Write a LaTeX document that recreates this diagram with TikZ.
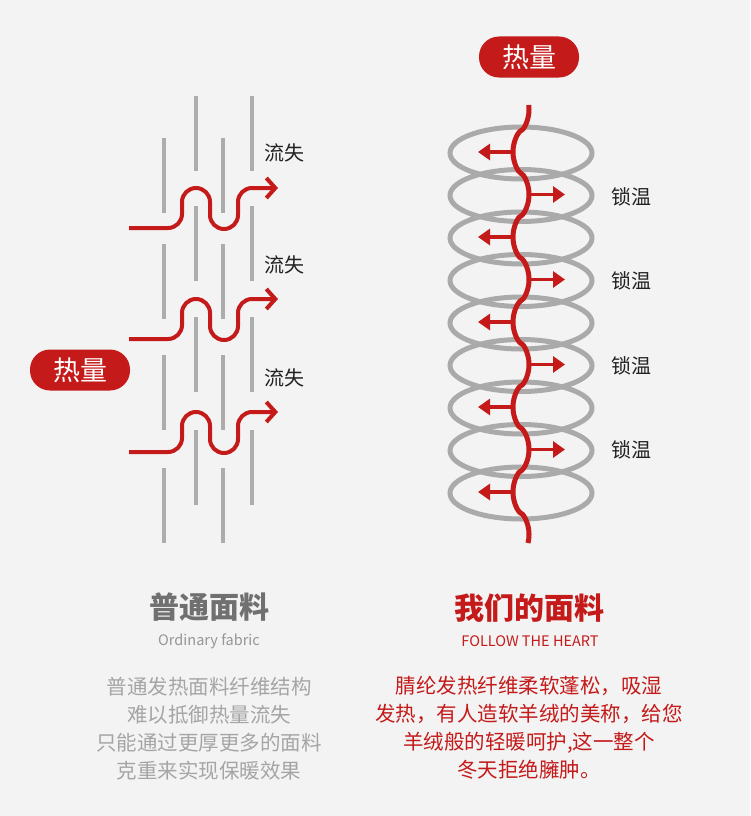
\documentclass[tikz,border=0pt]{standalone}
\usepackage{fontspec}
\setmainfont{Noto Sans CJK SC}
\usepackage{xcolor}
\usepackage{tikz}
\usetikzlibrary{arrows.meta, positioning}

\definecolor{bgGray}{RGB}{243,243,243}
\definecolor{heatRed}{RGB}{196,26,26}
\definecolor{fiberGray}{RGB}{172,172,172}
\definecolor{ringGray}{RGB}{170,170,170}
\definecolor{labelBlack}{RGB}{34,34,34}
\definecolor{headGray}{RGB}{112,112,112}
\definecolor{subGray}{RGB}{150,150,150}
\definecolor{paraGray}{RGB}{165,165,165}

\begin{document}
\begin{tikzpicture}[x=1pt, y=-1pt,
  pill/.style={rectangle, rounded corners=20pt, fill=heatRed, text=white, minimum width=100pt, minimum height=41pt, inner sep=0pt, font=\fontsize{27}{27}\selectfont},
  fiber/.style={fiberGray, line width=4pt},
  flow/.style={heatRed, line width=4pt, rounded corners=14pt, -{Straight Barb[length=9pt, width=20pt]}},
  ring/.style={ringGray, line width=5pt},
  wave/.style={heatRed, line width=5pt},
  keep/.style={heatRed, line width=3.5pt, -{Triangle[length=12pt, width=16pt]}},
  tag/.style={text=labelBlack, inner sep=0pt, font=\fontsize{20}{20}\selectfont},
  headline/.style={inner sep=0pt, font=\bfseries\fontsize{30}{30}\selectfont},
  subline/.style={inner sep=0pt, font=\fontsize{14.5}{14.5}\selectfont},
  para/.style={align=center, inner sep=0pt, font=\fontsize{20.5}{28}\selectfont}
]
  \fill[bgGray] (0,0) rectangle (750,816);

  % ordinary fabric: fibres and escaping heat
  \foreach \x in {164,223}
    \foreach \y in {138,244,355,468}
      \draw[fiber] (\x,\y) -- (\x,{\y+75});
  \foreach \x in {196,252}
    \foreach \y in {96,206,317,430}
      \draw[fiber] (\x,\y) -- (\x,{\y+75});

  \foreach \d in {0,111,224}
    \draw[flow, shift={(0,\d)}] (129,228) -- (182,228) -- (182,188) -- (210,188)
      -- (210,229) -- (238,229) -- (238,188) -- (278,188);

  \node[tag] (lossA) at (284,153) {流失};
  \node[tag] (lossB) at (284,265) {流失};
  \node[tag] (lossC) at (284,378) {流失};

  \node[pill] (heatLeft) at (80,370) {热量};

  % our fabric: rings lock the heat
  \foreach \k in {0,...,8}
    \draw[ring] (521,{153+42.5*\k}) ellipse [x radius=71pt, y radius=26pt];
  \draw[wave] plot[variable=\t, domain=105:543, samples=200, smooth]
    ({521-8*sign(cos(180*((\t-152)/42.5)))*(abs(cos(180*((\t-152)/42.5)))+0.0001)^0.65}, \t);
  \foreach \k in {0,2,4,6,8}
    \draw[keep] (514,{152+42.5*\k}) -- (478,{152+42.5*\k});
  \foreach \k in {1,3,5,7}
    \draw[keep] (528,{152+42.5*\k}) -- (565,{152+42.5*\k});

  \node[tag] (lockA) at (631,197) {锁温};
  \node[tag] (lockB) at (631,281) {锁温};
  \node[tag] (lockC) at (631,366) {锁温};
  \node[tag] (lockD) at (631,450) {锁温};

  \node[pill] (heatTop) at (529,57) {热量};

  % captions
  \node[headline, text=headGray] (normTitle) at (209,607) {普通面料};
  \node[subline, text=subGray] (normSub) at (209,641) {Ordinary fabric};
  \node[para, text=paraGray] (normText) at (209,729)
    {普通发热面料纤维结构\\难以抵御热量流失\\只能通过更厚更多的面料\\克重来实现保暖效果};

  \node[headline, text=heatRed] (ourTitle) at (529,608) {我们的面料};
  \node[subline, text=heatRed] (ourSub) at (530,641) {FOLLOW THE HEART};
  \node[para, text=heatRed] (ourText) at (529,728)
    {腈纶发热纤维柔软蓬松，吸湿\\发热，有人造软羊绒的美称，给您\\羊绒般的轻暖呵护,这一整个\\冬天拒绝臃肿。};
\end{tikzpicture}
\end{document}
